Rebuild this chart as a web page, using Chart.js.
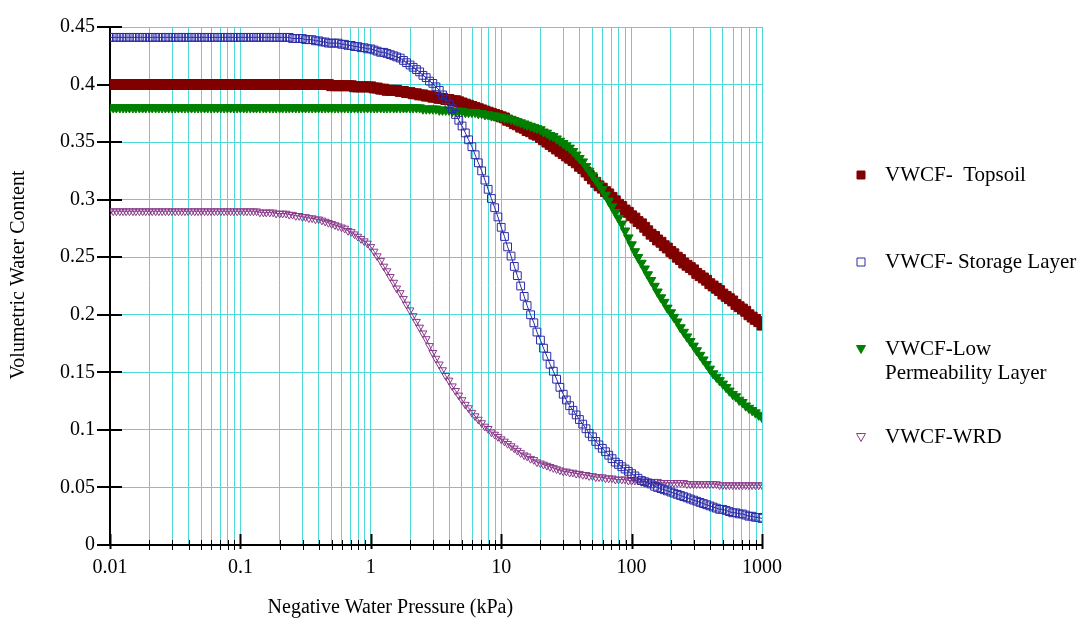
<!DOCTYPE html>
<html>
<head>
<meta charset="utf-8">
<title>VWCF curves</title>
<script src="https://cdn.jsdelivr.net/npm/chart.js@4.4.0/dist/chart.umd.min.js"></script>
<style>
  html, body { margin: 0; padding: 0; background: #fff; }
  #chart { display: block; }
</style>
</head>
<body>
<canvas id="chart" width="1086" height="626"></canvas>
<script>
// negative water pressure (kPa), 40 points per decade
var pressure = [
  0.01, 0.0106, 0.0112, 0.0119, 0.0126, 0.0133, 0.0141, 0.015, 0.0158, 0.0168,
  0.0178, 0.0188, 0.02, 0.0211, 0.0224, 0.0237, 0.0251, 0.0266, 0.0282, 0.0299,
  0.0316, 0.0335, 0.0355, 0.0376, 0.0398, 0.0422, 0.0447, 0.0473, 0.0501, 0.0531,
  0.0562, 0.0596, 0.0631, 0.0668, 0.0708, 0.075, 0.0794, 0.0841, 0.0891, 0.0944,
  0.1, 0.106, 0.112, 0.119, 0.126, 0.133, 0.141, 0.15, 0.158, 0.168,
  0.178, 0.188, 0.2, 0.211, 0.224, 0.237, 0.251, 0.266, 0.282, 0.299,
  0.316, 0.335, 0.355, 0.376, 0.398, 0.422, 0.447, 0.473, 0.501, 0.531,
  0.562, 0.596, 0.631, 0.668, 0.708, 0.75, 0.794, 0.841, 0.891, 0.944,
  1, 1.06, 1.12, 1.19, 1.26, 1.33, 1.41, 1.5, 1.58, 1.68,
  1.78, 1.88, 2, 2.11, 2.24, 2.37, 2.51, 2.66, 2.82, 2.99,
  3.16, 3.35, 3.55, 3.76, 3.98, 4.22, 4.47, 4.73, 5.01, 5.31,
  5.62, 5.96, 6.31, 6.68, 7.08, 7.5, 7.94, 8.41, 8.91, 9.44,
  10, 10.6, 11.2, 11.9, 12.6, 13.3, 14.1, 15, 15.8, 16.8,
  17.8, 18.8, 20, 21.1, 22.4, 23.7, 25.1, 26.6, 28.2, 29.9,
  31.6, 33.5, 35.5, 37.6, 39.8, 42.2, 44.7, 47.3, 50.1, 53.1,
  56.2, 59.6, 63.1, 66.8, 70.8, 75, 79.4, 84.1, 89.1, 94.4,
  100, 106, 112, 119, 126, 133, 141, 150, 158, 168,
  178, 188, 200, 211, 224, 237, 251, 266, 282, 299,
  316, 335, 355, 376, 398, 422, 447, 473, 501, 531,
  562, 596, 631, 668, 708, 750, 794, 841, 891, 944,
  1000
];

var topsoil = [
  0.400, 0.400, 0.400, 0.400, 0.400, 0.400, 0.400, 0.400, 0.400, 0.400,
  0.400, 0.400, 0.400, 0.400, 0.400, 0.400, 0.400, 0.400, 0.400, 0.400,
  0.400, 0.400, 0.400, 0.400, 0.400, 0.400, 0.400, 0.400, 0.400, 0.400,
  0.400, 0.400, 0.400, 0.400, 0.400, 0.400, 0.400, 0.400, 0.400, 0.400,
  0.400, 0.400, 0.400, 0.400, 0.400, 0.400, 0.400, 0.400, 0.400, 0.400,
  0.400, 0.400, 0.400, 0.400, 0.400, 0.400, 0.400, 0.400, 0.400, 0.400,
  0.400, 0.400, 0.400, 0.400, 0.400, 0.400, 0.400, 0.400, 0.399, 0.399,
  0.399, 0.399, 0.399, 0.399, 0.399, 0.398, 0.398, 0.398, 0.398, 0.398,
  0.398, 0.397, 0.397, 0.396, 0.396, 0.395, 0.395, 0.395, 0.395, 0.394,
  0.394, 0.393, 0.393, 0.392, 0.392, 0.391, 0.391, 0.390, 0.390, 0.389,
  0.389, 0.388, 0.388, 0.387, 0.387, 0.386, 0.386, 0.385, 0.384, 0.383,
  0.382, 0.381, 0.380, 0.379, 0.378, 0.377, 0.376, 0.375, 0.374, 0.373,
  0.372, 0.371, 0.369, 0.368, 0.366, 0.365, 0.363, 0.362, 0.360, 0.359,
  0.357, 0.356, 0.354, 0.352, 0.350, 0.348, 0.346, 0.344, 0.342, 0.340,
  0.338, 0.336, 0.334, 0.332, 0.329, 0.327, 0.324, 0.321, 0.318, 0.315,
  0.312, 0.310, 0.307, 0.305, 0.302, 0.299, 0.296, 0.294, 0.291, 0.289,
  0.286, 0.284, 0.281, 0.279, 0.276, 0.273, 0.270, 0.268, 0.265, 0.263,
  0.260, 0.258, 0.255, 0.253, 0.250, 0.248, 0.245, 0.243, 0.241, 0.239,
  0.236, 0.234, 0.232, 0.230, 0.227, 0.225, 0.223, 0.221, 0.218, 0.216,
  0.214, 0.212, 0.209, 0.207, 0.205, 0.203, 0.200, 0.198, 0.196, 0.194,
  0.191
];

var storageLayer = [
  0.441, 0.441, 0.441, 0.441, 0.441, 0.441, 0.441, 0.441, 0.441, 0.441,
  0.441, 0.441, 0.441, 0.441, 0.441, 0.441, 0.441, 0.441, 0.441, 0.441,
  0.441, 0.441, 0.441, 0.441, 0.441, 0.441, 0.441, 0.441, 0.441, 0.441,
  0.441, 0.441, 0.441, 0.441, 0.441, 0.441, 0.441, 0.441, 0.441, 0.441,
  0.441, 0.441, 0.441, 0.441, 0.441, 0.441, 0.441, 0.441, 0.441, 0.441,
  0.441, 0.441, 0.441, 0.441, 0.441, 0.441, 0.440, 0.440, 0.440, 0.440,
  0.439, 0.439, 0.439, 0.438, 0.438, 0.437, 0.437, 0.436, 0.436, 0.436,
  0.436, 0.435, 0.435, 0.434, 0.434, 0.433, 0.433, 0.432, 0.432, 0.431,
  0.431, 0.430, 0.429, 0.428, 0.428, 0.427, 0.426, 0.425, 0.424, 0.423,
  0.421, 0.419, 0.417, 0.415, 0.413, 0.411, 0.408, 0.406, 0.403, 0.401,
  0.398, 0.395, 0.391, 0.387, 0.383, 0.379, 0.374, 0.369, 0.364, 0.358,
  0.352, 0.346, 0.339, 0.332, 0.325, 0.317, 0.309, 0.301, 0.293, 0.285,
  0.276, 0.268, 0.259, 0.251, 0.242, 0.234, 0.225, 0.216, 0.208, 0.200,
  0.193, 0.185, 0.178, 0.171, 0.164, 0.157, 0.151, 0.144, 0.137, 0.131,
  0.126, 0.121, 0.117, 0.113, 0.109, 0.105, 0.101, 0.097, 0.094, 0.090,
  0.087, 0.084, 0.081, 0.078, 0.075, 0.072, 0.070, 0.068, 0.066, 0.064,
  0.062, 0.060, 0.058, 0.056, 0.055, 0.054, 0.053, 0.051, 0.050, 0.049,
  0.048, 0.047, 0.046, 0.045, 0.044, 0.043, 0.042, 0.041, 0.040, 0.039,
  0.038, 0.037, 0.036, 0.035, 0.034, 0.033, 0.032, 0.031, 0.031, 0.030,
  0.029, 0.028, 0.028, 0.027, 0.027, 0.026, 0.025, 0.025, 0.024, 0.024,
  0.023
];

var lowPermeability = [
  0.380, 0.380, 0.380, 0.380, 0.380, 0.380, 0.380, 0.380, 0.380, 0.380,
  0.380, 0.380, 0.380, 0.380, 0.380, 0.380, 0.380, 0.380, 0.380, 0.380,
  0.380, 0.380, 0.380, 0.380, 0.380, 0.380, 0.380, 0.380, 0.380, 0.380,
  0.380, 0.380, 0.380, 0.380, 0.380, 0.380, 0.380, 0.380, 0.380, 0.380,
  0.380, 0.380, 0.380, 0.380, 0.380, 0.380, 0.380, 0.380, 0.380, 0.380,
  0.380, 0.380, 0.380, 0.380, 0.380, 0.380, 0.380, 0.380, 0.380, 0.380,
  0.380, 0.380, 0.380, 0.380, 0.380, 0.380, 0.380, 0.380, 0.380, 0.380,
  0.380, 0.380, 0.380, 0.380, 0.380, 0.380, 0.380, 0.380, 0.380, 0.380,
  0.380, 0.380, 0.380, 0.380, 0.380, 0.380, 0.380, 0.380, 0.380, 0.380,
  0.380, 0.380, 0.380, 0.380, 0.380, 0.380, 0.379, 0.379, 0.379, 0.379,
  0.379, 0.378, 0.378, 0.378, 0.378, 0.377, 0.377, 0.377, 0.377, 0.376,
  0.376, 0.376, 0.376, 0.375, 0.375, 0.374, 0.374, 0.373, 0.373, 0.372,
  0.372, 0.371, 0.371, 0.370, 0.369, 0.368, 0.367, 0.366, 0.365, 0.364,
  0.363, 0.362, 0.361, 0.359, 0.358, 0.356, 0.355, 0.353, 0.351, 0.349,
  0.347, 0.345, 0.342, 0.339, 0.336, 0.333, 0.329, 0.325, 0.321, 0.317,
  0.313, 0.309, 0.304, 0.299, 0.294, 0.289, 0.284, 0.279, 0.273, 0.267,
  0.261, 0.255, 0.250, 0.245, 0.240, 0.235, 0.230, 0.225, 0.220, 0.215,
  0.211, 0.206, 0.202, 0.198, 0.194, 0.189, 0.185, 0.181, 0.177, 0.173,
  0.169, 0.165, 0.161, 0.157, 0.153, 0.149, 0.146, 0.143, 0.140, 0.137,
  0.134, 0.131, 0.129, 0.126, 0.124, 0.121, 0.119, 0.117, 0.115, 0.113,
  0.111
];

var wrd = [
  0.290, 0.290, 0.290, 0.290, 0.290, 0.290, 0.290, 0.290, 0.290, 0.290,
  0.290, 0.290, 0.290, 0.290, 0.290, 0.290, 0.290, 0.290, 0.290, 0.290,
  0.290, 0.290, 0.290, 0.290, 0.290, 0.290, 0.290, 0.290, 0.290, 0.290,
  0.290, 0.290, 0.290, 0.290, 0.290, 0.290, 0.290, 0.290, 0.290, 0.290,
  0.290, 0.290, 0.290, 0.290, 0.290, 0.290, 0.289, 0.289, 0.289, 0.289,
  0.289, 0.288, 0.288, 0.288, 0.288, 0.287, 0.287, 0.286, 0.286, 0.285,
  0.285, 0.284, 0.284, 0.283, 0.283, 0.282, 0.281, 0.280, 0.279, 0.278,
  0.277, 0.276, 0.275, 0.273, 0.272, 0.270, 0.268, 0.266, 0.264, 0.262,
  0.259, 0.255, 0.251, 0.247, 0.242, 0.238, 0.233, 0.228, 0.223, 0.219,
  0.214, 0.209, 0.204, 0.199, 0.194, 0.189, 0.184, 0.179, 0.173, 0.167,
  0.162, 0.157, 0.152, 0.147, 0.143, 0.138, 0.134, 0.130, 0.126, 0.122,
  0.119, 0.115, 0.112, 0.109, 0.106, 0.103, 0.101, 0.098, 0.096, 0.094,
  0.092, 0.090, 0.088, 0.086, 0.084, 0.082, 0.080, 0.078, 0.077, 0.075,
  0.074, 0.072, 0.071, 0.070, 0.069, 0.068, 0.067, 0.066, 0.065, 0.064,
  0.064, 0.063, 0.063, 0.062, 0.062, 0.061, 0.061, 0.060, 0.060, 0.059,
  0.059, 0.059, 0.058, 0.058, 0.058, 0.057, 0.057, 0.057, 0.057, 0.056,
  0.056, 0.056, 0.056, 0.055, 0.055, 0.055, 0.055, 0.055, 0.055, 0.054,
  0.054, 0.054, 0.054, 0.054, 0.054, 0.054, 0.054, 0.053, 0.053, 0.053,
  0.053, 0.053, 0.053, 0.053, 0.053, 0.053, 0.053, 0.052, 0.052, 0.052,
  0.052, 0.052, 0.052, 0.052, 0.052, 0.052, 0.052, 0.052, 0.052, 0.052,
  0.052
];

var decades = [0.01, 0.1, 1, 10, 100, 1000];
var decadeLabels = ['0.01', '0.1', '1', '10', '100', '1000'];
var minorSteps = [2, 3, 4, 5, 6, 7, 8, 9];

var xTitle = 'Negative Water Pressure (kPa)';
var yTitle = 'Volumetric Water Content';

var FONT = '"Liberation Serif", "Times New Roman", serif';
var GRID = '#4fd8d8';

function points(values) {
  return pressure.map(function (p, i) { return { x: p, y: values[i] }; });
}

// tick list for the log axis: every 1..9 in each decade
var xTickValues = [];
decades.forEach(function (d, i) {
  xTickValues.push(d);
  if (i < decades.length - 1) {
    minorSteps.forEach(function (m) { xTickValues.push(+(d * m).toPrecision(3)); });
  }
});

var legendItems = [
  { lines: ['VWCF-  Topsoil'], y: 175, shape: 'rect', fill: '#800000', stroke: '#800000' },
  { lines: ['VWCF- Storage Layer'], y: 262, shape: 'rect', fill: null, stroke: '#2a2aa8' },
  { lines: ['VWCF-Low', 'Permeability Layer'], y: 349, shape: 'tri', fill: '#008000', stroke: '#008000' },
  { lines: ['VWCF-WRD'], y: 437, shape: 'tri', fill: null, stroke: '#8a3a8a' }
];

var decorations = {
  id: 'decorations',
  beforeDatasetsDraw: function (chart) {
    var ctx = chart.ctx, area = chart.chartArea;
    var x = chart.scales.x, y = chart.scales.y;
    ctx.save();
    ctx.strokeStyle = '#000';
    xTickValues.forEach(function (v) {
      var px = Math.round(x.getPixelForValue(v)) + 0.5;
      var major = decades.indexOf(v) >= 0;
      ctx.lineWidth = major ? 2 : 1;
      ctx.beginPath();
      ctx.moveTo(px, area.bottom - (major ? 11 : 5));
      ctx.lineTo(px, area.bottom + (major ? 4 : 5));
      ctx.stroke();
    });
    y.ticks.forEach(function (t) {
      var py = Math.round(y.getPixelForValue(t.value));
      ctx.lineWidth = 2;
      ctx.beginPath();
      ctx.moveTo(area.left - 13, py);
      ctx.lineTo(area.left + 12, py);
      ctx.stroke();
    });
    ctx.restore();
  },
  afterDraw: function (chart) {
    var ctx = chart.ctx, area = chart.chartArea;
    ctx.save();
    ctx.fillStyle = '#000';
    ctx.font = '20px ' + FONT;
    ctx.textAlign = 'center';
    ctx.textBaseline = 'middle';
    ctx.fillText(xTitle, area.left + 0.43 * (area.right - area.left), 608);
    ctx.save();
    ctx.translate(19, 275);
    ctx.rotate(-Math.PI / 2);
    ctx.fillText(yTitle, 0, 0);
    ctx.restore();

    // legend
    ctx.font = '21px ' + FONT;
    ctx.textAlign = 'left';
    legendItems.forEach(function (item) {
      var mx = 861, my = item.y;
      ctx.lineWidth = 1;
      ctx.strokeStyle = item.stroke;
      ctx.beginPath();
      if (item.shape === 'rect') {
        ctx.rect(mx - 4, my - 4, 8, 8);
      } else {
        ctx.moveTo(mx - 4.5, my - 3.5);
        ctx.lineTo(mx + 4.5, my - 3.5);
        ctx.lineTo(mx, my + 4.5);
        ctx.closePath();
      }
      if (item.fill) { ctx.fillStyle = item.fill; ctx.fill(); }
      ctx.stroke();
      ctx.fillStyle = '#000';
      item.lines.forEach(function (line, k) {
        ctx.fillText(line, 885, my + k * 24);
      });
    });
    ctx.restore();
  }
};

new Chart(document.getElementById('chart').getContext('2d'), {
  type: 'line',
  data: {
    datasets: [
      {
        label: 'VWCF- Storage Layer',
        data: points(storageLayer),
        order: 0,
        borderColor: '#2a2aa8',
        backgroundColor: 'rgba(255,255,255,0)',
        borderWidth: 1,
        pointStyle: 'rect',
        pointRadius: 5.5,
        pointBorderWidth: 1
      },
      {
        label: 'VWCF-Low Permeability Layer',
        data: points(lowPermeability),
        order: 1,
        borderColor: '#008000',
        backgroundColor: '#008000',
        borderWidth: 1,
        pointStyle: 'triangle',
        pointRotation: 180,
        pointRadius: 5.5,
        pointBorderWidth: 1
      },
      {
        label: 'VWCF-WRD',
        data: points(wrd),
        order: 2,
        borderColor: '#8a3a8a',
        backgroundColor: 'rgba(255,255,255,0)',
        borderWidth: 1,
        pointStyle: 'triangle',
        pointRotation: 180,
        pointRadius: 4.5,
        pointBorderWidth: 1
      },
      {
        label: 'VWCF-  Topsoil',
        data: points(topsoil),
        order: 3,
        borderColor: '#800000',
        backgroundColor: '#800000',
        borderWidth: 1,
        pointStyle: 'rect',
        pointRadius: 7,
        pointBorderWidth: 1
      }
    ]
  },
  options: {
    responsive: false,
    animation: false,
    events: [],
    layout: { padding: { left: 0, right: 324, top: 22, bottom: 0 } },
    plugins: {
      legend: { display: false },
      tooltip: { enabled: false }
    },
    scales: {
      x: {
        type: 'logarithmic',
        min: 0.01,
        max: 1000,
        afterBuildTicks: function (scale) {
          scale.ticks = xTickValues.map(function (v) {
            return { value: v, major: decades.indexOf(v) >= 0 };
          });
        },
        afterFit: function (scale) { scale.height = 81; },
        grid: { color: GRID, lineWidth: 1, drawTicks: false },
        border: { color: '#000', width: 2 },
        ticks: {
          autoSkip: false,
          maxRotation: 0,
          padding: 11,
          color: '#000',
          font: { family: FONT, size: 20 },
          callback: function (value) {
            var k = decades.indexOf(value);
            return k >= 0 ? decadeLabels[k] : '';
          }
        }
      },
      y: {
        min: 0,
        max: 0.45,
        afterFit: function (scale) { scale.width = 110; },
        grid: { color: GRID, lineWidth: 1, drawTicks: false },
        border: { color: '#000', width: 2 },
        ticks: {
          stepSize: 0.05,
          padding: 15,
          color: '#000',
          font: { family: FONT, size: 20 },
          callback: function (value) { return String(+value.toFixed(2)); }
        }
      }
    }
  },
  plugins: [decorations]
});
</script>
</body>
</html>
